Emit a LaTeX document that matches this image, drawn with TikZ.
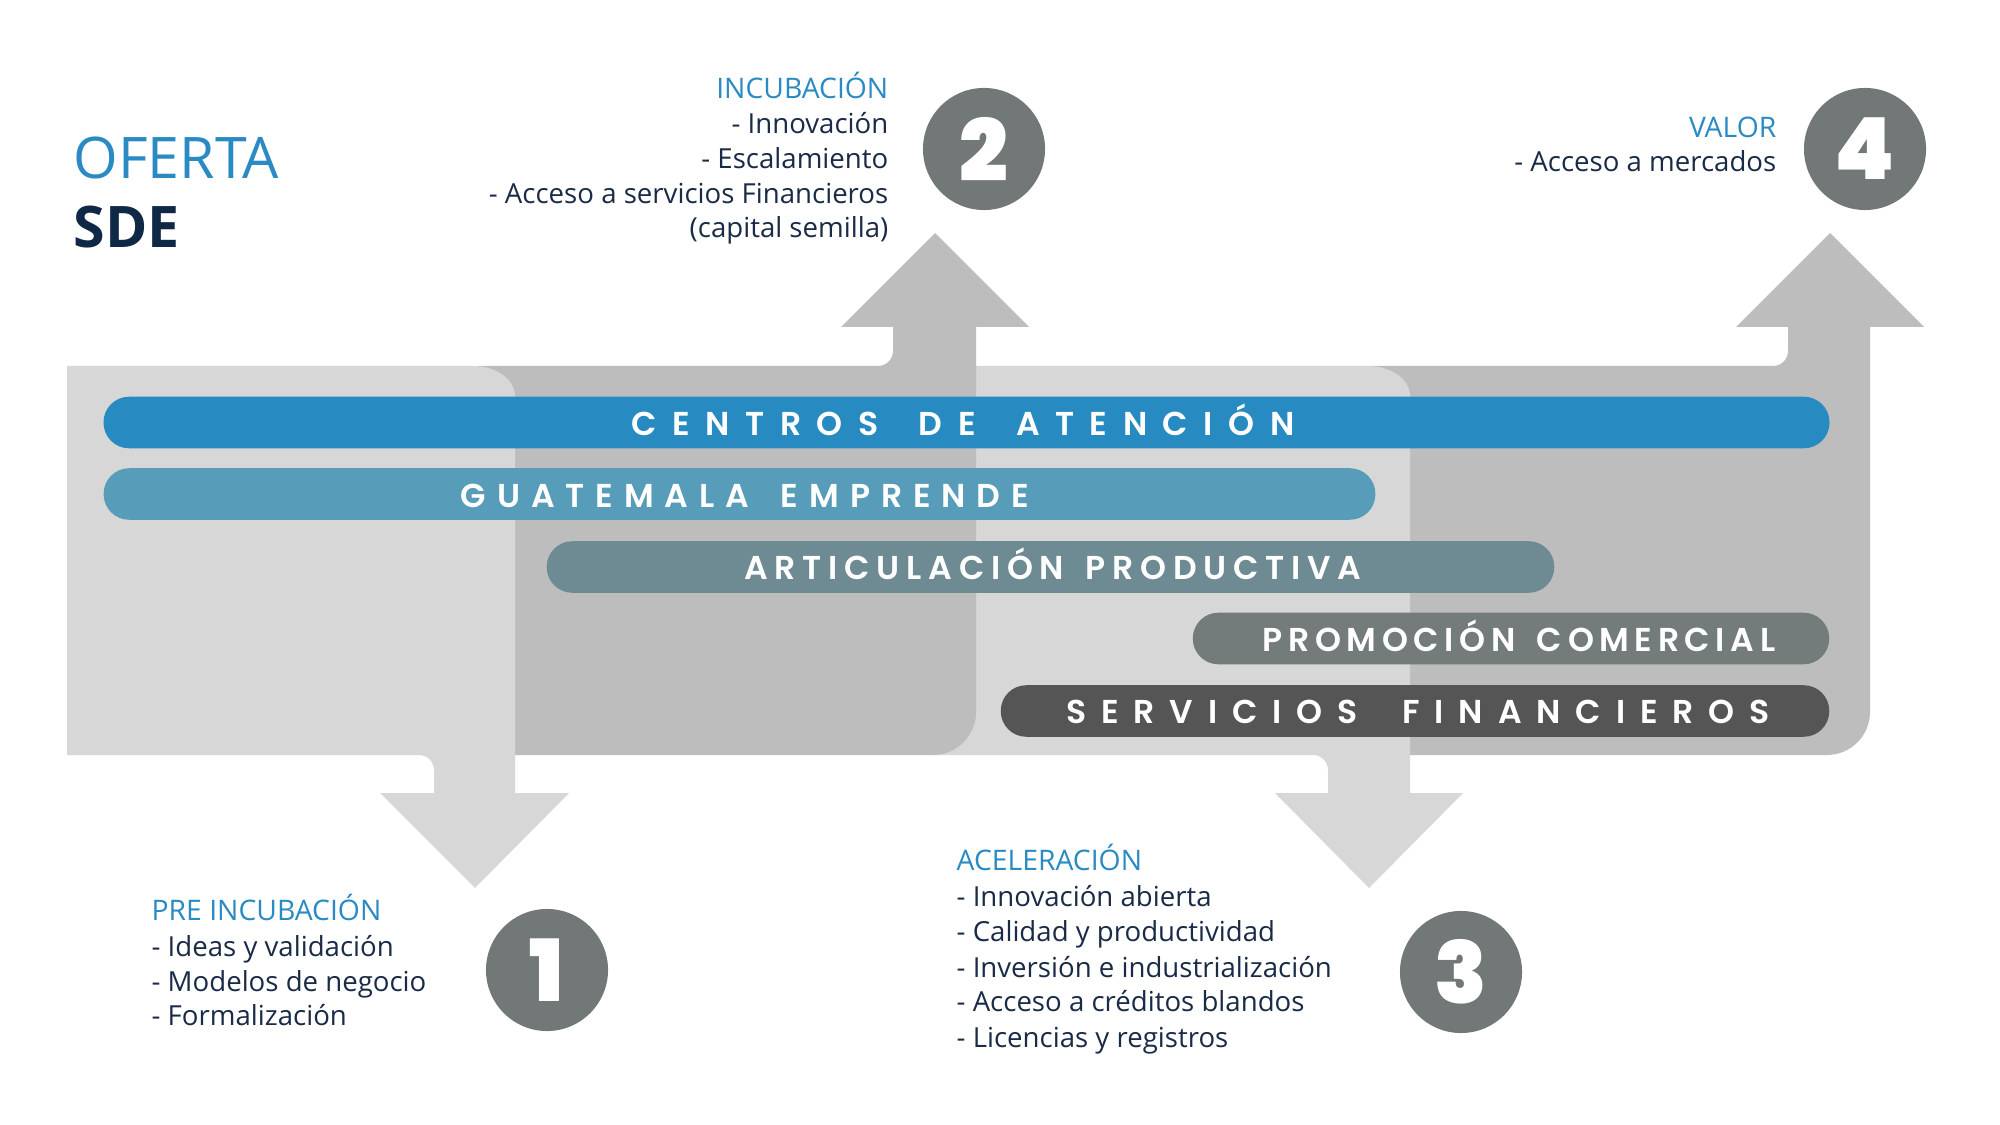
\documentclass[tikz,border=0pt]{standalone}
\usepackage{fontspec}
\setmainfont{Open Sans}
\IfFontExistsTF{Poppins SemiBold}{\newfontfamily\barfont{Poppins SemiBold}}{\IfFontExistsTF{Poppins Medium}{\newfontfamily\barfont{Poppins Medium}}{\newfontfamily\barfont{Poppins}[UprightFont=*-Bold]}}
\IfFontExistsTF{Poppins Black}{\newfontfamily\numfont{Poppins Black}}{\IfFontExistsTF{Poppins ExtraBold}{\newfontfamily\numfont{Poppins ExtraBold}}{\newfontfamily\numfont{Poppins}[UprightFont=*-Bold]}}
\definecolor{lg}{HTML}{D7D7D7}
\definecolor{dg}{HTML}{BDBDBD}
\definecolor{bA}{HTML}{278BC2}
\definecolor{bB}{HTML}{579CB8}
\definecolor{bC}{HTML}{6E8A92}
\definecolor{bD}{HTML}{747B7B}
\definecolor{bE}{HTML}{555555}
\definecolor{circ}{HTML}{717877}
\definecolor{tblue}{HTML}{2A8AC3}
\definecolor{navy}{HTML}{1A2B47}
\definecolor{sde}{HTML}{0F2846}
\begin{document}
\begin{tikzpicture}[x=0.01cm,y=-0.01cm,
  bar/.style={rounded corners=0.255cm, inner sep=0, minimum height=0.515cm},
  bartext/.style={text=white, inner sep=0, anchor=base},
  body/.style={inner sep=0, text=navy, font=\fontsize{7.85}{9}\selectfont},
  headtxt/.style={inner sep=0, text=tblue, font=\fontsize{8.05}{9}\selectfont},
  numc/.style={circle, fill=circ, minimum size=1.22cm, inner sep=0, text=white, font=\numfont\fontsize{24.4}{26}\selectfont}
]
\useasboundingbox[fill=white] (0,0) rectangle (2000,1125);
% gray bands (back to front)
\fill[dg] (1370,366) -- (1773,366) .. controls (1781.3,366) and (1788,359.3) .. (1788,351) -- (1788,327) -- (1736,327) -- (1830,233) -- (1924,327) -- (1870,327) -- (1870,712) .. controls (1870,735.7) and (1850.7,755) .. (1827,755) -- (1370,755) -- cycle;
\fill[lg] (930,366) -- (1368,366) .. controls (1391.2,366) and (1410,379.4) .. (1410,396) -- (1410,793) -- (1463,793) -- (1369,888) -- (1275,793) -- (1328,793) -- (1328,770) .. controls (1328,761.7) and (1321.3,755) .. (1313,755) -- (930,755) -- cycle;
\fill[dg] (478,366) -- (878,366) .. controls (886.3,366) and (893,359.3) .. (893,351) -- (893,327) -- (841,327) -- (935,233) -- (1029,327) -- (976,327) -- (976,712) .. controls (976,735.7) and (956.7,755) .. (933,755) -- (478,755) -- cycle;
\fill[lg] (67,366) -- (473,366) .. controls (496.2,366) and (515,379.4) .. (515,396) -- (515,793) -- (569,793) -- (475,888) -- (380,793) -- (434,793) -- (434,770) .. controls (434,761.7) and (427.3,755) .. (419,755) -- (67,755) -- cycle;
% bars
\node[bar, fill=bA, minimum width=17.25cm] (barA) at (966.5,422.5) {};
\node[bar, fill=bB, minimum width=12.71cm] (barB) at (739.5,494) {};
\node[bar, fill=bC, minimum width=10.07cm] (barC) at (1050.5,567) {};
\node[bar, fill=bD, minimum width=6.36cm] (barD) at (1511,638.5) {};
\node[bar, fill=bE, minimum width=8.28cm] (barE) at (1415,711) {};
\node[bartext, font=\barfont\fontsize{9.4}{11}\selectfont\addfontfeatures{LetterSpace=47}] (tA) at (963,436) {CENTROS\hspace{0.17cm} DE\hspace{0.17cm} ATENCIÓN};
\node[bartext, font=\barfont\fontsize{9.4}{11}\selectfont\addfontfeatures{LetterSpace=33}] (tB) at (745,508) {GUATEMALA\hspace{0.13cm} EMPRENDE};
\node[bartext, font=\barfont\fontsize{9.4}{11}\selectfont\addfontfeatures{LetterSpace=20.5}] (tC) at (1053,580) {ARTICULACIÓN\hspace{0.07cm} PRODUCTIVA};
\node[bartext, font=\barfont\fontsize{9.4}{11}\selectfont\addfontfeatures{LetterSpace=17}] (tD) at (1519,652) {PROMOCIÓN\hspace{0.08cm} COMERCIAL};
\node[bartext, font=\barfont\fontsize{9.4}{11}\selectfont\addfontfeatures{LetterSpace=45}] (tE) at (1418,723) {SERVICIOS\hspace{0.22cm} FINANCIEROS};
% circles
\node[numc] (n1) at (547,970) {1};
\node[numc] (n2) at (984,149) {2};
\node[numc] (n3) at (1461,972) {3};
\node[numc] (n4) at (1865,149) {4};
% title
\node[inner sep=0, anchor=base west, text=tblue, font=\fontsize{16.3}{18}\selectfont] (of) at (73,179) {OFERTA};
\node[inner sep=0, anchor=base west, text=sde, font=\bfseries\fontsize{16.3}{18}\selectfont] (sd) at (73,248) {SDE};
% incubacion
\node[headtxt, anchor=base east] (i0) at (889,99) {INCUBACIÓN};
\node[body, anchor=base east] (i1) at (889,134) {- Innovación};
\node[body, anchor=base east] (i2) at (889,169) {- Escalamiento};
\node[body, anchor=base east] (i3) at (889,204) {- Acceso a servicios Financieros};
\node[body, anchor=base east] (i4) at (889,238) {(capital semilla)};
% valor
\node[headtxt, anchor=base east] (v0) at (1777,138) {VALOR};
\node[body, anchor=base east] (v1) at (1777,172) {- Acceso a mercados};
% pre incubacion
\node[headtxt, anchor=base west] (p0) at (151,920) {PRE INCUBACIÓN};
\node[body, anchor=base west] (p1) at (151,956) {- Ideas y validación};
\node[body, anchor=base west] (p2) at (151,991) {- Modelos de negocio};
\node[body, anchor=base west] (p3) at (151,1025) {- Formalización};
% aceleracion
\node[headtxt, anchor=base west] (a0) at (956,870) {ACELERACIÓN};
\node[body, anchor=base west] (a1) at (956,906) {- Innovación abierta};
\node[body, anchor=base west] (a2) at (956,941) {- Calidad y productividad};
\node[body, anchor=base west] (a3) at (956,977) {- Inversión e industrialización};
\node[body, anchor=base west] (a4) at (956,1011) {- Acceso a créditos blandos};
\node[body, anchor=base west] (a5) at (956,1047) {- Licencias y registros};
\end{tikzpicture}
\end{document}
